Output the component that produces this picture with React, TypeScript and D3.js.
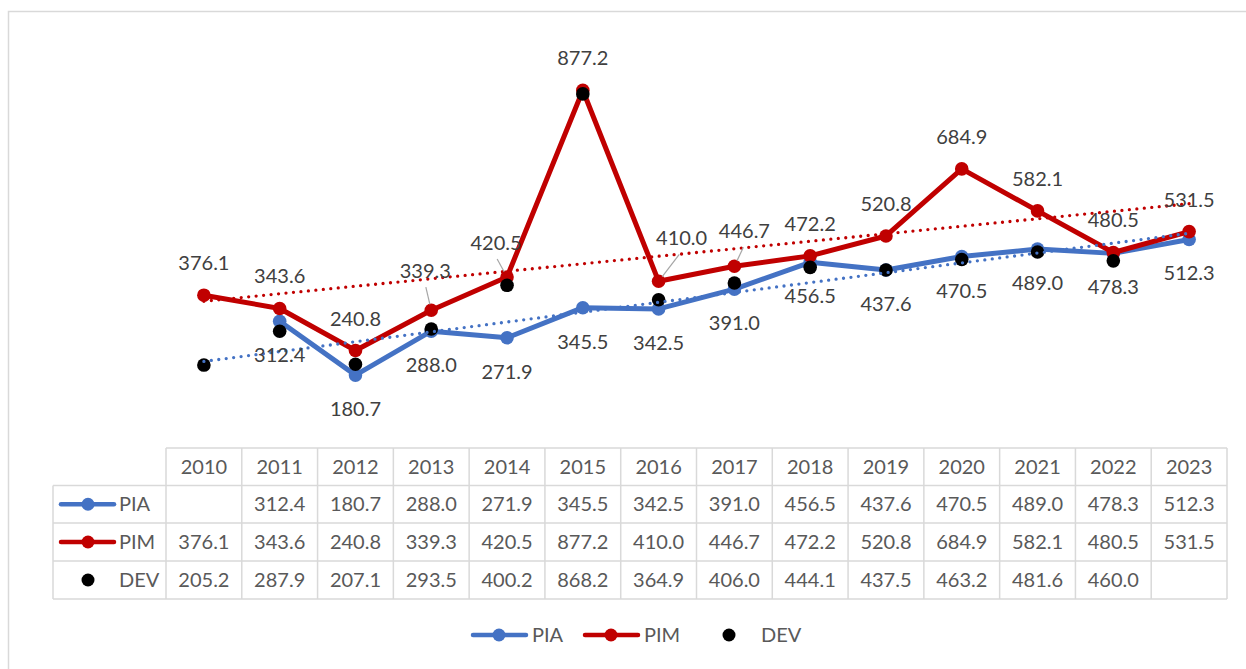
import React from "react";
import * as d3 from "d3";

const years = ["2010", "2011", "2012", "2013", "2014", "2015", "2016", "2017", "2018", "2019", "2020", "2021", "2022", "2023"];
const piaValues: (number | null)[] = [null, 312.4, 180.7, 288.0, 271.9, 345.5, 342.5, 391.0, 456.5, 437.6, 470.5, 489.0, 478.3, 512.3];
const pimValues: (number | null)[] = [376.1, 343.6, 240.8, 339.3, 420.5, 877.2, 410.0, 446.7, 472.2, 520.8, 684.9, 582.1, 480.5, 531.5];
const devValues: (number | null)[] = [205.2, 287.9, 207.1, 293.5, 400.2, 868.2, 364.9, 406.0, 444.1, 437.5, 463.2, 481.6, 460.0, null];

const W = 1246;
const H = 669;
const BLUE = "#4472C4";
const RED = "#C00000";
const GRID = "#D9D9D9";
const FONT = "Lato, 'Open Sans', sans-serif";

// table geometry (also gives the category positions)
const tableLeft = 166;
const tableRight = 1227;
const keyLeft = 53;
const rowLines = [448, 485.5, 523, 561, 599];

// labels that were dragged by hand in the original, with leader lines
const labelMoves: Record<string, { dx: number; dy: number }> = {
  "PIM-2013": { dx: -6, dy: -39 },
  "PIM-2014": { dx: -11, dy: -34 },
  "PIM-2016": { dx: 23, dy: -43 },
  "PIM-2017": { dx: 10, dy: -35 },
};

const x = d3.scaleBand<string>().domain(years).range([tableLeft, tableRight]);
const cx = (yr: string) => (x(yr) as number) + x.bandwidth() / 2;
const y = d3.scaleLinear().domain([0, 1000]).range([449, 40]);

// least squares on category index, drawn over the full category range
function trend(values: (number | null)[]) {
  const pts = values.map((v, i) => [i, v] as [number, number | null]).filter((p) => p[1] != null) as [number, number][];
  const mx = d3.mean(pts, (p) => p[0]) as number;
  const my = d3.mean(pts, (p) => p[1]) as number;
  const sxy = d3.sum(pts, (p) => (p[0] - mx) * (p[1] - my));
  const sxx = d3.sum(pts, (p) => (p[0] - mx) * (p[0] - mx));
  const slope = sxy / sxx;
  const f = (i: number) => my + slope * (i - mx);
  return [
    [cx(years[0]), y(f(0))],
    [cx(years[years.length - 1]), y(f(years.length - 1))],
  ] as [number, number][];
}

const line = d3
  .line<number | null>()
  .defined((d) => d != null)
  .x((_, i) => cx(years[i]))
  .y((d) => y(d as number));

const fmt = d3.format(".1f");

export default function App() {
  const series = [
    { name: "PIA", values: piaValues, color: BLUE },
    { name: "PIM", values: pimValues, color: RED },
  ];
  const tableRows = [
    { name: "PIA", values: piaValues, color: BLUE, kind: "line" },
    { name: "PIM", values: pimValues, color: RED, kind: "line" },
    { name: "DEV", values: devValues, color: "#000", kind: "dot" },
  ];

  return (
    <svg width={W} height={H} style={{ position: "absolute", left: 0, top: 0, background: "#fff" }} fontFamily={FONT}>
      <rect x={8.5} y={11.5} width={W + 20} height={H + 20} fill="#fff" stroke={GRID} strokeWidth={1.5} />

      {/* series lines and markers */}
      {series.map((s) => (
        <g key={s.name}>
          <path d={line(s.values) || ""} fill="none" stroke={s.color} strokeWidth={5} strokeLinejoin="round" />
          {s.values.map((v, i) =>
            v == null ? null : <circle key={i} cx={cx(years[i])} cy={y(v)} r={6.8} fill={s.color} />
          )}
        </g>
      ))}
      {devValues.map((v, i) => (v == null ? null : <circle key={i} cx={cx(years[i])} cy={y(v)} r={6.8} fill="#000" />))}

      {/* trendlines */}
      <path d={d3.line()(trend(piaValues)) || ""} stroke={BLUE} strokeWidth={3.3} strokeDasharray="0 7.5" strokeLinecap="round" fill="none" />
      <path d={d3.line()(trend(pimValues)) || ""} stroke={RED} strokeWidth={3.3} strokeDasharray="0 7.5" strokeLinecap="round" fill="none" />

      {/* data labels */}
      {series.map((s) =>
        s.values.map((v, i) => {
          if (v == null) return null;
          const px = cx(years[i]);
          const py = y(v);
          const mv = labelMoves[`${s.name}-${years[i]}`];
          const lx = px + (mv ? mv.dx : 0);
          const ly = py + (mv ? mv.dy : s.name === "PIM" ? -32 : 34);
          let leader = null;
          if (mv) {
            const sx = lx + (px - lx) * 0.1;
            const sy = ly + 16;
            const ang = Math.atan2(sy - py, sx - px);
            leader = <line x1={sx} y1={sy} x2={px + 6 * Math.cos(ang)} y2={py + 6 * Math.sin(ang)} stroke="#A6A6A6" strokeWidth={1.2} />;
          }
          return (
            <g key={`${s.name}-${i}`}>
              {leader}
              <text x={lx} y={ly + 7} textAnchor="middle" fontSize={20} fill="#404040">
                {fmt(v)}
              </text>
            </g>
          );
        })
      )}

      {/* data table */}
      <g>
        <line x1={tableLeft} x2={tableRight} y1={rowLines[0]} y2={rowLines[0]} stroke={GRID} strokeWidth={1.5} />
        {rowLines.slice(1).map((ry, i) => (
          <line key={i} x1={keyLeft} x2={tableRight} y1={ry} y2={ry} stroke={GRID} strokeWidth={1.5} />
        ))}
        <line x1={keyLeft} x2={keyLeft} y1={rowLines[1]} y2={rowLines[4]} stroke={GRID} strokeWidth={1.5} />
        {years.map((yr) => (
          <line key={yr} x1={x(yr)} x2={x(yr)} y1={rowLines[0]} y2={rowLines[4]} stroke={GRID} strokeWidth={1.5} />
        ))}
        <line x1={tableRight} x2={tableRight} y1={rowLines[0]} y2={rowLines[4]} stroke={GRID} strokeWidth={1.5} />

        {years.map((yr) => (
          <text key={yr} x={cx(yr)} y={(rowLines[0] + rowLines[1]) / 2 + 7} textAnchor="middle" fontSize={20} fill="#595959">
            {yr}
          </text>
        ))}

        {tableRows.map((r, ri) => {
          const my = (rowLines[ri + 1] + rowLines[ri + 2]) / 2;
          return (
            <g key={r.name}>
              {r.kind === "line" ? (
                <g>
                  <line x1={61} x2={114} y1={my} y2={my} stroke={r.color} strokeWidth={4.5} strokeLinecap="round" />
                  <circle cx={88} cy={my} r={6.5} fill={r.color} />
                </g>
              ) : (
                <circle cx={88} cy={my} r={6.5} fill={r.color} />
              )}
              <text x={119} y={my + 7} fontSize={20} fill="#595959">
                {r.name}
              </text>
              {r.values.map((v, i) =>
                v == null ? null : (
                  <text key={i} x={cx(years[i])} y={my + 7} textAnchor="middle" fontSize={20} fill="#595959">
                    {fmt(v)}
                  </text>
                )
              )}
            </g>
          );
        })}
      </g>

      {/* legend */}
      <g>
        <line x1={473} x2={526} y1={635} y2={635} stroke={BLUE} strokeWidth={4.5} strokeLinecap="round" />
        <circle cx={499} cy={635} r={6.5} fill={BLUE} />
        <text x={532} y={642} fontSize={20} fill="#595959">PIA</text>
        <line x1={585} x2={638} y1={635} y2={635} stroke={RED} strokeWidth={4.5} strokeLinecap="round" />
        <circle cx={611} cy={635} r={6.5} fill={RED} />
        <text x={644} y={642} fontSize={20} fill="#595959">PIM</text>
        <circle cx={729} cy={635} r={6.5} fill="#000" />
        <text x={761} y={642} fontSize={20} fill="#595959">DEV</text>
      </g>
    </svg>
  );
}
